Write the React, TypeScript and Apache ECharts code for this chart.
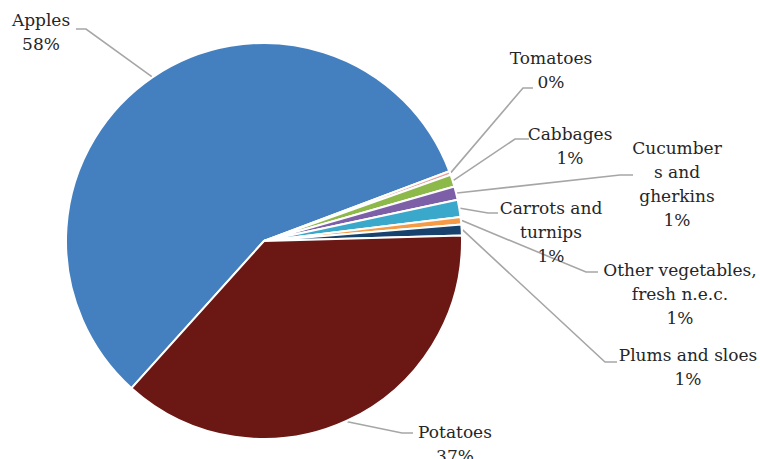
import React, { useEffect, useRef } from "react";
import * as echarts from "echarts";

const categories = [
  "Apples",
  "Tomatoes",
  "Cabbages",
  "Cucumbers and gherkins",
  "Carrots and turnips",
  "Other vegetables, fresh n.e.c.",
  "Plums and sloes",
  "Potatoes",
];
const shares = [57.6, 0.3, 1.0, 1.1, 1.4, 0.6, 0.9, 37.1];
const labelTexts = [
  "Apples",
  "Tomatoes",
  "Cabbages",
  "Cucumber\ns and\ngherkins",
  "Carrots and\nturnips",
  "Other vegetables,\nfresh n.e.c.",
  "Plums and sloes",
  "Potatoes",
];
const colors = ["#4480BF", "#E9A19C", "#8DB94A", "#7D5FA7", "#3AA8CA", "#F59A45", "#17426E", "#6B1713"];

// label block centres and leader elbows (layout, not data)
const labelCenters: number[][] = [
  [41, 32],
  [551, 70],
  [570, 146],
  [677, 184],
  [551, 232],
  [680, 294],
  [688, 367],
  [455, 444],
];
const leaderElbows: number[][][] = [
  [[86, 29], [76, 29]],
  [[523, 88], [533, 88]],
  [[515, 139], [529, 139]],
  [[620, 175], [633, 175]],
  [[488, 213], [498, 213]],
  [[586, 272], [598, 272]],
  [[605, 362], [617, 362]],
  [[402, 433], [413, 433]],
];

const CX = 264;
const CY = 241;
const R = 198;
const START = 228;
const FONT = "'Liberation Serif', 'DejaVu Serif', serif";

export default function App() {
  const ref = useRef<HTMLDivElement>(null);
  useEffect(() => {
    document.body.style.margin = "0";
    const chart = echarts.init(ref.current!, null, { renderer: "svg" });
    const total = shares.reduce((a, b) => a + b, 0);
    const mids: number[] = [];
    let cum = 0;
    shares.forEach((v) => {
      mids.push(START - ((cum + v / 2) / total) * 360);
      cum += v;
    });
    chart.setOption({
      animation: false,
      backgroundColor: "#ffffff",
      textStyle: { fontFamily: FONT },
      series: [
        {
          type: "pie",
          center: [CX, CY],
          radius: [0, R],
          startAngle: START,
          clockwise: true,
          avoidLabelOverlap: false,
          itemStyle: { borderColor: "#ffffff", borderWidth: 2 },
          label: {
            show: true,
            position: "outside",
            fontFamily: "DejaVu Serif",
            fontSize: 17,
            lineHeight: 24,
            color: "#262626",
            align: "center",
            formatter: (p: any) => `${labelTexts[p.dataIndex]}\n${Math.round(p.percent)}%`,
          },
          labelLine: {
            show: true,
            lineStyle: { color: "#A6A6A6", width: 1.6 },
          },
          labelLayout: (p: any) => {
            const i = p.dataIndex;
            const a = (mids[i] * Math.PI) / 180;
            const edge = [CX + (R + 1) * Math.cos(a), CY - (R + 1) * Math.sin(a)];
            return {
              x: labelCenters[i][0],
              y: labelCenters[i][1],
              align: "center",
              verticalAlign: "middle",
              labelLinePoints: [edge, leaderElbows[i][0], leaderElbows[i][1]],
            };
          },
          data: categories.map((name, i) => ({
            name,
            value: shares[i],
            itemStyle: { color: colors[i] },
          })),
        },
      ],
    });
    return () => chart.dispose();
  }, []);
  return <div ref={ref} style={{ width: 760, height: 459 }} />;
}
